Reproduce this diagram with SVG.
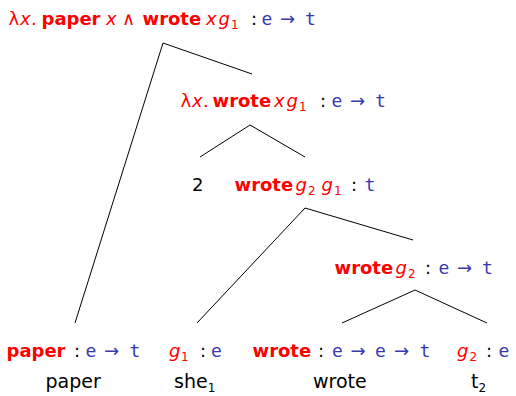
<svg xmlns="http://www.w3.org/2000/svg" width="516" height="396" viewBox="0 0 516 396">
<style>
text{font-family:"DejaVu Sans",sans-serif;font-size:18px;fill:#000}
.r{fill:#ff0000}
.b{font-weight:bold}
.i{font-style:italic}
.t{fill:#3939b0;font-family:"DejaVu Sans Mono",monospace}
.a{fill:#3939b0}
.s{font-size:12px}
.w{font-size:19px}
line{stroke:#000;stroke-width:1}
</style>
<rect width="516" height="396" fill="#fff"/>
<g id="connectors">
<line x1="163" y1="43" x2="75" y2="323"/>
<line x1="163" y1="43" x2="252" y2="74"/>
<line x1="250" y1="125" x2="200" y2="157"/>
<line x1="250" y1="125" x2="305" y2="157"/>
<line x1="305" y1="208" x2="197" y2="323"/>
<line x1="305" y1="208" x2="413" y2="240"/>
<line x1="415" y1="290" x2="342" y2="323"/>
<line x1="415" y1="290" x2="487" y2="323"/>
</g>
<g id="n1"><text y="25"><tspan class="r" x="8.5">λ</tspan><tspan class="r i" x="20">x</tspan><tspan class="r" x="31">.</tspan><tspan class="r b" x="41.5">paper</tspan><tspan class="r i" x="106">x</tspan><tspan class="r" x="122">∧</tspan><tspan class="r b" x="142.5">wrote</tspan><tspan class="r i" x="206">x</tspan><tspan class="r i" x="218.5">g</tspan><tspan class="r s" x="231" dy="4">1</tspan><tspan x="251" dy="-4">:</tspan><tspan class="t" x="261.5">e</tspan><tspan class="a" x="280">→</tspan><tspan class="t" x="305">t</tspan></text></g>
<g id="n2"><text y="107"><tspan class="r" x="180.5">λ</tspan><tspan class="r i" x="192">x</tspan><tspan class="r" x="203">.</tspan><tspan class="r b" x="212.5">wrote</tspan><tspan class="r i" x="274">x</tspan><tspan class="r i" x="286.5">g</tspan><tspan class="r s" x="299" dy="4">1</tspan><tspan x="320" dy="-4">:</tspan><tspan class="t" x="331.5">e</tspan><tspan class="a" x="350">→</tspan><tspan class="t" x="375">t</tspan></text></g>
<g id="n3"><text x="192" y="191">2</text></g>
<g id="n4"><text y="191"><tspan class="r b" x="234.5">wrote</tspan><tspan class="r i" x="295.5">g</tspan><tspan class="r s" x="308" dy="4">2</tspan><tspan class="r i" x="321.5" dy="-4">g</tspan><tspan class="r s" x="334" dy="4">1</tspan><tspan x="351" dy="-4">:</tspan><tspan class="t" x="364.5">t</tspan></text></g>
<g id="n5"><text y="274"><tspan class="r b" x="334.5">wrote</tspan><tspan class="r i" x="395.5">g</tspan><tspan class="r s" x="408" dy="4">2</tspan><tspan x="425" dy="-4">:</tspan><tspan class="t" x="438.5">e</tspan><tspan class="a" x="457">→</tspan><tspan class="t" x="482">t</tspan></text></g>
<g id="n6"><text y="357"><tspan class="r b" x="6.5">paper</tspan><tspan x="74">:</tspan><tspan class="t" x="85.5">e</tspan><tspan class="a" x="104">→</tspan><tspan class="t" x="129.5">t</tspan></text><text class="w" x="45.5" y="388">paper</text></g>
<g id="n7"><text y="357"><tspan class="r i" x="169">g</tspan><tspan class="r s" x="181" dy="4">1</tspan><tspan x="200" dy="-4">:</tspan><tspan class="t" x="211">e</tspan></text><text class="w" x="174" y="388">she<tspan class="s" dy="4">1</tspan></text></g>
<g id="n8"><text y="357"><tspan class="r b" x="252.5">wrote</tspan><tspan x="318">:</tspan><tspan class="t" x="332">e</tspan><tspan class="a" x="350.5">→</tspan><tspan class="t" x="375">e</tspan><tspan class="a" x="394">→</tspan><tspan class="t" x="419.5">t</tspan></text><text class="w" x="313" y="388">wrote</text></g>
<g id="n9"><text y="357"><tspan class="r i" x="457">g</tspan><tspan class="r s" x="469.5" dy="4">2</tspan><tspan x="486" dy="-4">:</tspan><tspan class="t" x="498.5">e</tspan></text><text class="w" x="471" y="388">t<tspan class="s" dy="4">2</tspan></text></g>
</svg>
